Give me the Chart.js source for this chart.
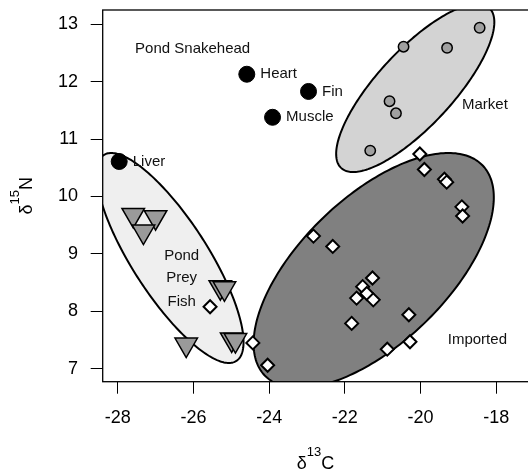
<!DOCTYPE html>
<html><head><meta charset="utf-8">
<style>html,body{margin:0;padding:0;overflow:hidden;background:#fff;width:528px;height:472px}canvas{display:block}</style>
<script src="https://cdn.jsdelivr.net/npm/chart.js@4"></script>
</head><body>
<canvas id="c" width="540" height="472"></canvas>
<script>
const FONT = "'Liberation Sans', Arial, Helvetica, sans-serif";

// ---- Data (δ13C, δ15N) ----
const snakeTissues = ['Heart', 'Fin', 'Muscle', 'Liver'];
const snakeC = [-24.59, -22.96, -23.91, -27.96];
const snakeN = [12.13, 11.83, 11.38, 10.61];

const marketC = [-20.45, -19.30, -18.44, -20.82, -20.65, -21.33];
const marketN = [12.61, 12.59, 12.94, 11.66, 11.45, 10.80];

const importedC = [-22.83, -22.32, -21.27, -21.53, -21.42, -21.69, -21.25, -21.82, -20.88, -24.43, -24.04,
                   -20.02, -19.90, -19.37, -19.31, -18.91, -18.89, -20.31, -20.28];
const importedN = [9.31, 9.13, 8.58, 8.43, 8.31, 8.23, 8.20, 7.79, 7.34, 7.45, 7.06,
                   10.74, 10.47, 10.30, 10.25, 9.82, 9.66, 7.94, 7.47];

const preyFishC = [-27.59, -27.00, -27.32, -25.29, -25.18, -26.19, -24.99, -24.89];
const preyFishN = [9.68, 9.64, 9.39, 8.42, 8.40, 7.42, 7.51, 7.50];

const preyDiamondC = [-25.56];
const preyDiamondN = [8.08];

// Ellipses: centre and two conjugate half-axes (data units)
const ellipseGroups = ['Pond Prey Fish', 'Imported', 'Market'];
const ellipseCentreC = [-26.617, -21.238, -20.141];
const ellipseCentreN = [8.929, 8.711, 11.890];
const ellipseAxis1C = [1.554, -1.972, -1.639];
const ellipseAxis1N = [-1.829, -2.047, -1.463];
const ellipseAxis2C = [1.163, 2.485, 1.295];
const ellipseAxis2N = [0, 0, 0];
const ellipseFill = ['#efefef', '#808080', '#d3d3d3'];

const groupLabelText = ['Pond Snakehead', 'Market', 'Imported', 'Pond', 'Prey', 'Fish'];
const groupLabelC = [-26.02, -18.30, -18.50, -26.31, -26.31, -26.31];
const groupLabelN = [12.57, 11.59, 7.51, 8.96, 8.59, 8.17];

const xTicks = [-28, -26, -24, -22, -20, -18];
const yTicks = [7, 8, 9, 10, 11, 12, 13];
const xMin = -28.396, xMax = -17.110;
const yMin = 6.774, yMax = 13.249;

const toPts = (cs, ns) => cs.map((c, i) => ({x: c, y: ns[i]}));

const ellipsePlugin = {
  id: 'ellipses',
  beforeDatasetsDraw(chart) {
    const {ctx, chartArea: a} = chart;
    const sx = chart.scales.x, sy = chart.scales.y;
    ctx.save();
    ctx.beginPath();
    ctx.rect(a.left, a.top, a.right - a.left, a.bottom - a.top);
    ctx.clip();
    for (let i = 0; i < ellipseGroups.length; i++) {
      ctx.beginPath();
      const steps = 240;
      for (let k = 0; k <= steps; k++) {
        const t = k / steps * 2 * Math.PI;
        const c = ellipseCentreC[i] + ellipseAxis1C[i] * Math.cos(t) + ellipseAxis2C[i] * Math.sin(t);
        const n = ellipseCentreN[i] + ellipseAxis1N[i] * Math.cos(t) + ellipseAxis2N[i] * Math.sin(t);
        const X = sx.getPixelForValue(c), Y = sy.getPixelForValue(n);
        if (k === 0) ctx.moveTo(X, Y); else ctx.lineTo(X, Y);
      }
      ctx.closePath();
      ctx.fillStyle = ellipseFill[i];
      ctx.fill();
      ctx.lineWidth = 2;
      ctx.strokeStyle = '#000';
      ctx.stroke();
    }
    ctx.restore();
    // frame
    ctx.save();
    ctx.strokeStyle = '#000';
    ctx.lineWidth = 1.3;
    ctx.strokeRect(a.left, a.top, a.right - a.left, a.bottom - a.top);
    ctx.restore();
  },
  afterDatasetsDraw(chart) {
    const {ctx} = chart;
    const sx = chart.scales.x, sy = chart.scales.y;
    ctx.save();
    ctx.fillStyle = '#111';
    ctx.font = '15px ' + FONT;
    ctx.textBaseline = 'middle';
    ctx.textAlign = 'left';
    snakeTissues.forEach((t, i) => {
      ctx.fillText(t, sx.getPixelForValue(snakeC[i]) + 13.5, sy.getPixelForValue(snakeN[i]));
    });
    ctx.textAlign = 'center';
    groupLabelText.forEach((t, i) => {
      ctx.fillText(t, sx.getPixelForValue(groupLabelC[i]), sy.getPixelForValue(groupLabelN[i]));
    });
    ctx.restore();
  },
  afterDraw(chart) {
    const {ctx, chartArea: a} = chart;
    ctx.save();
    ctx.fillStyle = '#000';
    ctx.textBaseline = 'alphabetic';
    ctx.textAlign = 'left';
    const big = '18px ' + FONT, small = '13px ' + FONT;
    const drawTitle = (sym, sup, el) => {
      ctx.font = big; const w1 = ctx.measureText(sym).width, w3 = ctx.measureText(el).width;
      ctx.font = small; const w2 = ctx.measureText(sup).width;
      let x0 = -(w1 + w2 + w3) / 2;
      ctx.font = big; ctx.fillText(sym, x0, 0);
      ctx.font = small; ctx.fillText(sup, x0 + w1, -13);
      ctx.font = big; ctx.fillText(el, x0 + w1 + w2, 0);
    };
    // x title
    ctx.save();
    ctx.translate(315.5, 469);
    drawTitle('δ', '13', 'C');
    ctx.restore();
    // y title
    ctx.save();
    ctx.translate(31.5, (a.top + a.bottom) / 2);
    ctx.rotate(-Math.PI / 2);
    drawTitle('δ', '15', 'N');
    ctx.restore();
    ctx.restore();
  }
};

const axisCommon = {
  type: 'linear',
  grid: {display: true, drawOnChartArea: false, drawTicks: true, tickLength: 12, color: '#000', lineWidth: 1},
  border: {display: false},
  ticks: {font: {family: FONT, size: 18}, color: '#000', padding: 14, maxRotation: 0, autoSkip: false}
};
const zeroPad = s => { s.paddingTop = 0; s.paddingBottom = 0; s.paddingLeft = 0; s.paddingRight = 0; };

new Chart(document.getElementById('c'), {
  type: 'scatter',
  data: {
    datasets: [
      {label: 'Pond Snakehead', data: toPts(snakeC, snakeN), pointStyle: 'circle', pointRadius: 8,
       backgroundColor: '#000', borderColor: '#000', borderWidth: 1},
      {label: 'Market', data: toPts(marketC, marketN), pointStyle: 'circle', pointRadius: 5.2,
       backgroundColor: '#a0a0a0', borderColor: '#000', borderWidth: 1.5},
      {label: 'Imported', data: toPts(importedC, importedN), pointStyle: 'rectRot', pointRadius: 6.5,
       backgroundColor: '#fff', borderColor: '#000', borderWidth: 2},
      {label: 'Pond Prey (diamond)', data: toPts(preyDiamondC, preyDiamondN), pointStyle: 'rectRot', pointRadius: 6.5,
       backgroundColor: '#fff', borderColor: '#000', borderWidth: 2},
      {label: 'Pond Prey Fish', data: toPts(preyFishC, preyFishN), pointStyle: 'triangle', pointRotation: 180,
       pointRadius: 13, backgroundColor: '#9a9a9a', borderColor: '#000', borderWidth: 1.5}
    ]
  },
  options: {
    responsive: false,
    animation: false,
    devicePixelRatio: 1,
    layout: {autoPadding: false, padding: {top: 10, right: 10, left: 0, bottom: 0}},
    plugins: {legend: {display: false}, tooltip: {enabled: false}, title: {display: false}},
    scales: {
      x: Object.assign({}, axisCommon, {
        min: xMin, max: xMax, position: 'bottom',
        afterBuildTicks: s => { s.ticks = xTicks.map(v => ({value: v})); },
        afterFit: s => { s.height = 90.3; zeroPad(s); }
      }),
      y: Object.assign({}, axisCommon, {
        min: yMin, max: yMax, position: 'left',
        afterBuildTicks: s => { s.ticks = yTicks.map(v => ({value: v})); },
        afterFit: s => { s.width = 102.7; zeroPad(s); },
        ticks: Object.assign({}, axisCommon.ticks, {padding: 12.7})
      })
    }
  },
  plugins: [ellipsePlugin]
});
</script>
</body></html>
